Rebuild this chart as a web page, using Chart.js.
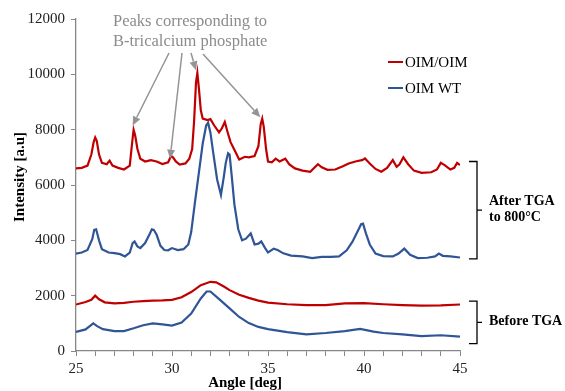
<!DOCTYPE html>
<html>
<head>
<meta charset="utf-8">
<script src="https://cdn.jsdelivr.net/npm/chart.js@4/dist/chart.umd.min.js"></script>
<style>
html,body{margin:0;padding:0;background:#fff;}
#wrap{width:565px;height:391px;position:relative;}
</style>
</head>
<body>
<div id="wrap"><canvas id="c" width="565" height="391"></canvas></div>
<script>
// ---- Data ----
const seriesNames = ['OIM/OIM', 'OIM WT'];

const redAfterAngle = [25.0,25.3,25.6,25.8,25.92,26.0,26.08,26.2,26.35,26.6,26.75,26.9,27.2,27.5,27.8,27.92,28.0,28.08,28.2,28.35,28.6,28.9,29.2,29.5,29.8,29.95,30.05,30.2,30.4,30.7,30.9,31.05,31.15,31.25,31.32,31.4,31.5,31.6,31.85,32.0,32.2,32.45,32.6,32.75,32.9,33.05,33.3,33.5,33.8,34.0,34.3,34.5,34.62,34.7,34.78,34.9,35.0,35.2,35.4,35.6,35.9,36.1,36.4,36.8,37.2,37.6,37.8,38.1,38.5,38.9,39.2,39.6,39.9,40.05,40.3,40.6,40.9,41.2,41.5,41.7,41.85,42.05,42.3,42.6,43.0,43.5,43.8,44.0,44.2,44.5,44.7,44.85,45.0];
const redAfterIntensity = [6600,6620,6700,7100,7550,7720,7600,7100,6800,6750,6880,6700,6620,6560,6700,7500,8000,7800,7300,6950,6850,6900,6850,6760,6820,7050,7000,6850,6740,6780,6950,7300,8300,9700,10050,9500,8700,8400,8350,8380,8150,7900,8050,8280,7900,7550,7200,6920,7020,7000,7050,7400,8200,8400,8100,7300,6850,6820,6950,6850,6950,6750,6600,6520,6480,6750,6640,6550,6560,6680,6780,6860,6900,6960,6780,6580,6480,6620,6900,6660,6750,7000,6750,6520,6440,6460,6560,6800,6720,6560,6620,6800,6720];

const blueAfterAngle = [25.0,25.3,25.6,25.85,25.95,26.05,26.2,26.35,26.7,27.0,27.3,27.55,27.8,27.95,28.05,28.2,28.35,28.6,28.85,28.95,29.05,29.2,29.4,29.6,29.8,30.0,30.3,30.6,30.85,31.0,31.2,31.4,31.6,31.78,31.88,32.0,32.15,32.35,32.55,32.7,32.8,32.92,33.0,33.1,33.25,33.45,33.65,33.85,34.1,34.3,34.5,34.65,34.85,35.0,35.3,35.5,35.8,36.2,36.8,37.3,37.8,38.3,38.7,39.1,39.4,39.65,39.85,39.95,40.1,40.3,40.6,41.0,41.5,41.8,42.1,42.4,42.8,43.3,43.7,43.9,44.1,44.5,45.0];
const blueAfterIntensity = [3520,3560,3650,4050,4380,4400,4000,3680,3560,3540,3500,3420,3560,3900,3960,3780,3720,3900,4250,4400,4380,4200,3800,3650,3640,3720,3650,3680,3850,4300,5400,6450,7500,8150,8250,7900,7150,6200,5640,6300,6800,7150,7100,6400,5300,4400,4000,4060,4250,3850,3880,3960,3720,3560,3700,3650,3530,3450,3420,3360,3400,3400,3420,3640,3950,4300,4580,4600,4250,3850,3520,3430,3420,3520,3700,3480,3360,3370,3420,3520,3440,3420,3380];

const redBeforeAngle = [25.0,25.5,25.8,26.0,26.2,26.5,27.0,27.5,28.0,28.5,29.0,29.5,30.0,30.5,31.0,31.5,32.0,32.3,32.7,33.0,33.5,34.0,34.5,35.0,36.0,37.0,38.0,39.0,40.0,41.0,42.0,43.0,44.0,45.0];
const redBeforeIntensity = [1680,1770,1850,2000,1870,1760,1720,1740,1780,1800,1820,1830,1850,1940,2130,2380,2500,2480,2330,2200,2030,1920,1820,1750,1690,1660,1660,1720,1730,1690,1660,1640,1650,1680];

const blueBeforeAngle = [25.0,25.5,25.9,26.1,26.4,27.0,27.5,28.0,28.5,29.0,29.5,30.0,30.5,31.0,31.5,31.8,32.0,32.5,33.0,33.5,34.0,34.5,35.0,36.0,37.0,38.0,39.0,39.8,40.5,41.0,42.0,43.0,44.0,45.0];
const blueBeforeIntensity = [690,780,1000,900,790,720,720,820,930,1000,960,920,1030,1350,1900,2150,2150,1850,1540,1230,1010,870,790,680,600,650,720,800,700,650,600,540,570,520];

const xTickLabels = [25, 30, 35, 40, 45];
const yTickLabels = [0, 2000, 4000, 6000, 8000, 10000, 12000];

// annotation: arrow tips (angle, intensity) pointing at the β-TCP peaks
const peakArrowAngle = [27.95, 29.9, 31.25, 34.6];
const peakArrowIntensity = [8150, 6950, 10150, 8450];

// ---- Styling ----
const RED = '#c00000';
const BLUE = '#2f5597';
const AXIS = '#868686';
const SERIF = '"Liberation Serif", "Times New Roman", serif';

function pts(xs, ys){ return xs.map((x,i)=>({x:x, y:ys[i]})); }

const overlay = {
  id: 'overlay',
  afterDraw(chart){
    const ctx = chart.ctx;
    const xs = chart.scales.x, ys = chart.scales.y;
    const ca = chart.chartArea;
    ctx.save();

    // axis titles
    ctx.fillStyle = '#000';
    ctx.font = 'bold 15px ' + SERIF;
    ctx.textAlign = 'center';
    ctx.textBaseline = 'middle';
    ctx.fillText('Angle [deg]', 245, 383);
    ctx.save();
    ctx.translate(20, 177);
    ctx.rotate(-Math.PI/2);
    ctx.fillText('Intensity [a.u]', 0, 0);
    ctx.restore();

    // legend
    ctx.font = '15px ' + SERIF;
    ctx.textAlign = 'left';
    const lx = ca.right - 72;
    [[seriesNames[0], RED, 62], [seriesNames[1], BLUE, 88]].forEach(([t,c,y])=>{
      ctx.strokeStyle = c; ctx.lineWidth = 2;
      ctx.beginPath(); ctx.moveTo(lx, y); ctx.lineTo(lx+15, y); ctx.stroke();
      ctx.fillStyle = '#000';
      ctx.fillText(t, lx+17, y+1);
    });

    // peaks annotation text
    ctx.fillStyle = '#8c8c8c';
    ctx.font = '16.5px ' + SERIF;
    ctx.textAlign = 'left';
    ctx.fillText('Peaks corresponding to', 113, 22);
    ctx.fillText('B-tricalcium phosphate', 113, 42);

    // arrows
    const starts = [[169,53],[182,53],[191,53],[203,54]];
    ctx.strokeStyle = '#949494';
    ctx.fillStyle = '#949494';
    ctx.lineWidth = 1.5;
    starts.forEach((s,i)=>{
      const tx = xs.getPixelForValue(peakArrowAngle[i]);
      const ty = ys.getPixelForValue(peakArrowIntensity[i]);
      const ang = Math.atan2(ty - s[1], tx - s[0]);
      const hl = 9, hw = 4;
      const bx = tx - hl*Math.cos(ang), by = ty - hl*Math.sin(ang);
      ctx.beginPath(); ctx.moveTo(s[0], s[1]); ctx.lineTo(bx, by); ctx.stroke();
      ctx.beginPath();
      ctx.moveTo(tx, ty);
      ctx.lineTo(bx + hw*Math.sin(ang), by - hw*Math.cos(ang));
      ctx.lineTo(bx - hw*Math.sin(ang), by + hw*Math.cos(ang));
      ctx.closePath(); ctx.fill();
    });

    // brackets
    const bx = ca.right + 17;
    function bracket(v1, v2, lines){
      const y1 = ys.getPixelForValue(v1), y2 = ys.getPixelForValue(v2);
      const ym = (y1+y2)/2;
      ctx.strokeStyle = '#000'; ctx.lineWidth = 1.3;
      ctx.beginPath();
      ctx.moveTo(bx-8, y1); ctx.lineTo(bx, y1); ctx.lineTo(bx, y2); ctx.lineTo(bx-8, y2);
      ctx.moveTo(bx, ym); ctx.lineTo(bx+5, ym);
      ctx.stroke();
      ctx.fillStyle = '#000';
      ctx.font = 'bold 14px ' + SERIF;
      ctx.textAlign = 'left'; ctx.textBaseline = 'middle';
      const off = (lines.length-1)*8;
      lines.forEach((t,i)=> ctx.fillText(t, bx+12, ym - off + i*16 - 1));
    }
    bracket(6850, 3330, ['After TGA', 'to 800°C']);
    bracket(1800, 270, ['Before TGA']);

    ctx.restore();
  }
};

const ds = (label, data, color) => ({
  label, data, borderColor: color, backgroundColor: color,
  borderWidth: 2.2, pointRadius: 0, tension: 0, fill: false
});

new Chart(document.getElementById('c'), {
  type: 'line',
  data: {
    datasets: [
      ds(seriesNames[0] + ' after TGA', pts(redAfterAngle, redAfterIntensity), RED),
      ds(seriesNames[1] + ' after TGA', pts(blueAfterAngle, blueAfterIntensity), BLUE),
      ds(seriesNames[0] + ' before TGA', pts(redBeforeAngle, redBeforeIntensity), RED),
      ds(seriesNames[1] + ' before TGA', pts(blueBeforeAngle, blueBeforeIntensity), BLUE)
    ]
  },
  options: {
    responsive: false,
    animation: false,
    layout: { padding: { top: 19, right: 105, bottom: 0, left: 0 } },
    plugins: { legend: { display: false }, tooltip: { enabled: false } },
    scales: {
      x: {
        type: 'linear', min: 25, max: 45,
        afterFit(s){ s.height = 40; },
        afterBuildTicks(s){
          const t = [];
          for (let v = 25; v <= 45; v++) t.push({value: v});
          s.ticks = t;
        },
        ticks: {
          autoSkip: false, maxRotation: 0, padding: 4, color: '#222',
          font: { family: SERIF, size: 15 },
          callback: v => xTickLabels.includes(v) ? String(v) : ''
        },
        grid: { drawOnChartArea: false, tickLength: 5, color: AXIS, lineWidth: 1 },
        border: { color: AXIS, width: 1.3 }
      },
      y: {
        min: 0, max: 12000,
        afterFit(s){ s.width = 76; },
        afterBuildTicks(s){ s.ticks = yTickLabels.map(v => ({value: v})); },
        ticks: { padding: 6, color: '#222', font: { family: SERIF, size: 15 },
          callback: v => String(v) },
        grid: { drawOnChartArea: false, tickLength: 5, color: AXIS, lineWidth: 1 },
        border: { color: AXIS, width: 1.3 }
      }
    }
  },
  plugins: [overlay]
});
</script>
</body>
</html>
